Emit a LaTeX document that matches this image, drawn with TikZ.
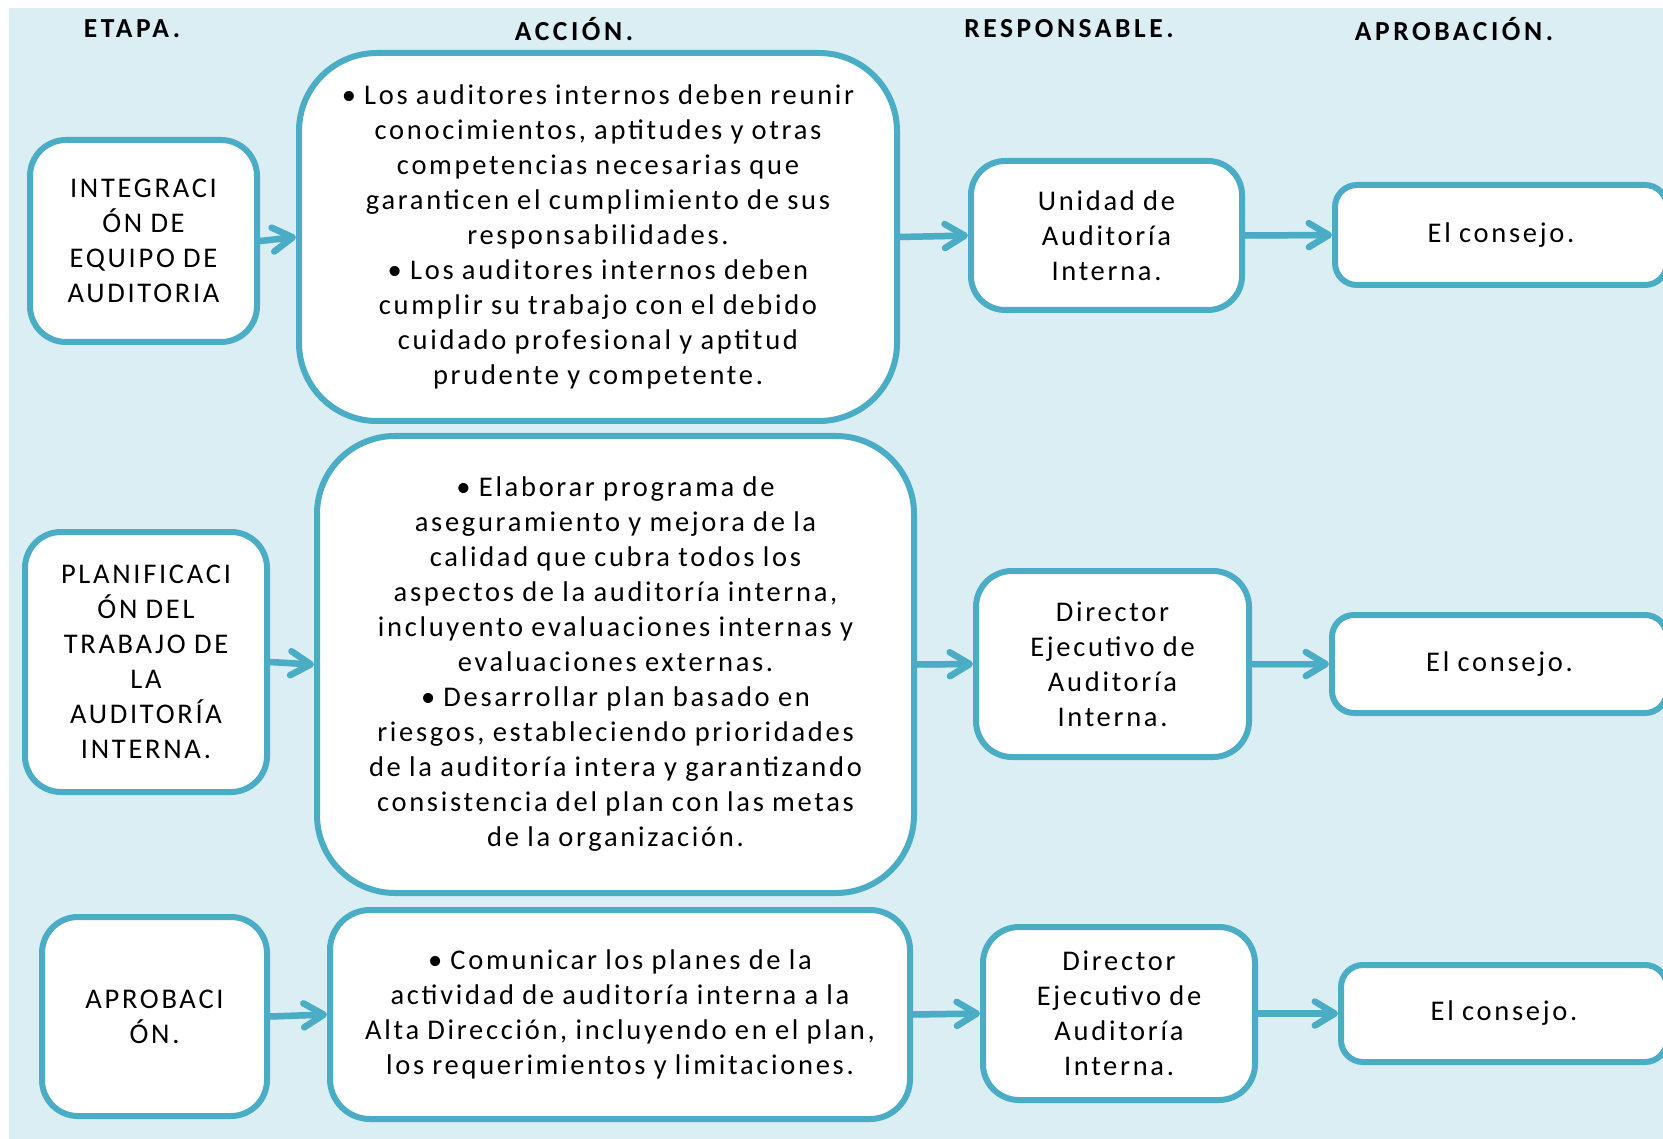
\documentclass[tikz,border=0pt]{standalone}
\usepackage{fontspec}
\setmainfont[LetterSpace=9.5,WordSpace=0.9]{Carlito}
\newfontfamily\headfont[LetterSpace=13]{Carlito}
\usetikzlibrary{arrows.meta}
\definecolor{bgblue}{HTML}{DAEEF3}
\definecolor{frame}{HTML}{4BACC6}
\begin{document}
\begin{tikzpicture}[x=1pt,y=-1pt,
  box/.style={draw=frame, line width=6pt, fill=white, align=center, inner sep=0pt,
    font=\fontsize{28.5}{35}\selectfont},
  head/.style={font=\headfont\bfseries\fontsize{27.5}{32}\selectfont, inner sep=0pt},
  link/.style={draw=frame, line width=6.5pt, line cap=round,
    -{Straight Barb[length=20pt,width=24pt,round]},
    preaction={draw=black, opacity=0.18, transform canvas={xshift=1pt,yshift=-3pt}}}
]
% page and tinted background
\clip (0,0) rectangle (1663,1139);
\fill[white] (0,0) rectangle (1663,1139);
\fill[bgblue] (9,8) rectangle (1663,1139);

% column headers
\node[head] (h1) at (132,29) {ETAPA.};
\node[head] (h2) at (574,29) {ACCIÓN.};
\node[head] (h3) at (1069,29) {RESPONSABLE.};
\node[head] (h4) at (1454,29) {APROBACIÓN.};

% row 1
\node[box, rounded corners=36pt, minimum width=227pt, minimum height=202pt] (e1) at (143.5,241)
  {INTEGRACI\\ÓN DE\\EQUIPO DE\\AUDITORIA};
\node[box, rounded corners=78pt, minimum width=598pt, minimum height=368pt] (a1) at (598,237)
  {• Los auditores internos deben reunir\\conocimientos, aptitudes y otras\\competencias necesarias que\\garanticen el cumplimiento de sus\\responsabilidades.\\• Los auditores internos deben\\cumplir su trabajo con el debido\\cuidado profesional y aptitud\\prudente y competente.};
\node[box, rounded corners=34pt, minimum width=271pt, minimum height=149pt] (r1) at (1106.5,235.5)
  {Unidad de\\Auditoría\\Interna.};
\node[box, rounded corners=22pt, minimum width=332pt, minimum height=100pt] (p1) at (1501,235)
  {El consejo.};

% row 2
\node[box, rounded corners=36pt, minimum width=242pt, minimum height=260pt] (e2) at (146,662)
  {PLANIFICACI\\ÓN DEL\\TRABAJO DE\\LA\\AUDITORÍA\\INTERNA.};
\node[box, rounded corners=78pt, minimum width=597pt, minimum height=457pt] (a2) at (615.5,664.5)
  {• Elaborar programa de\\aseguramiento y mejora de la\\calidad que cubra todos los\\aspectos de la auditoría interna,\\incluyento evaluaciones internas y\\evaluaciones externas.\\• Desarrollar plan basado en\\riesgos, estableciendo prioridades\\de la auditoría intera y garantizando\\consistencia del plan con las metas\\de la organización.};
\node[box, rounded corners=36pt, minimum width=273pt, minimum height=186pt] (r2) at (1112.5,664)
  {Director\\Ejecutivo de\\Auditoría\\Interna.};
\node[box, rounded corners=22pt, minimum width=335pt, minimum height=98pt] (p2) at (1499.5,664)
  {El consejo.};

% row 3
\node[box, rounded corners=36pt, minimum width=225pt, minimum height=199pt] (e3) at (154.5,1016.5)
  {APROBACI\\ÓN.};
\node[box, rounded corners=40pt, minimum width=580pt, minimum height=209pt] (a3) at (620,1014.5)
  {• Comunicar los planes de la\\actividad de auditoría interna a la\\Alta Dirección, incluyendo en el plan,\\los requerimientos y limitaciones.};
\node[box, rounded corners=36pt, minimum width=272pt, minimum height=173pt] (r3) at (1119,1013.5)
  {Director\\Ejecutivo de\\Auditoría\\Interna.};
\node[box, rounded corners=22pt, minimum width=326pt, minimum height=97pt] (p3) at (1504,1013.5)
  {El consejo.};

% flow arrows
\foreach \r in {1,2,3} {
  \draw[link] (e\r.east) -- (a\r.west);
  \draw[link] (a\r.east) -- (r\r.west);
  \draw[link] (r\r.east) -- (p\r.west);
}
\end{tikzpicture}
\end{document}
